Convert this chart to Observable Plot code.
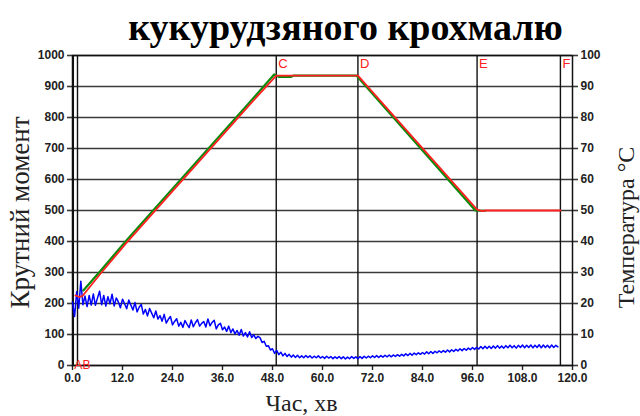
<!DOCTYPE html>
<html>
<head>
<meta charset="utf-8">
<script src="https://cdn.jsdelivr.net/npm/d3@7"></script>
<script src="https://cdn.jsdelivr.net/npm/@observablehq/plot@0.6"></script>
<style>
  body { margin: 0; background: #fff; }
  #chart { width: 640px; height: 416px; }
</style>
</head>
<body>
<div id="chart"></div>
<script>
// Texts
const title = "кукурудзяного крохмалю";
const xLabel = "Час, хв";
const yLeftLabel = "Крутний момент";
const yRightLabel = "Температура °С";

// Axis ticks
const xTicks = [0, 12, 24, 36, 48, 60, 72, 84, 96, 108, 120];
const yTicks = [0, 100, 200, 300, 400, 500, 600, 700, 800, 900, 1000];

// Stage markers of the program (min)
const eventNames = ["A", "B", "C", "D", "E", "F"];
const eventTimes = [0.2, 1.2, 48.9, 68.5, 97.1, 117.1];

// Measured product temperature (°C)
const tempTime  = [0.7, 1.6, 2.4, 6.7, 13.1, 42.7, 48.9, 68.5, 97.1, 98.3, 99.2, 117.1];
const tempValue = [22.6, 22.1, 22.4, 29.6, 39.8, 84.4, 93.5, 93.5, 50.3, 49.8, 50.0, 50.0];

// Programmed (set) temperature (°C)
const setTime  = [2.6, 6.7, 13.1, 42.7, 48.4, 49.6, 52.5, 53.0, 68.2, 96.7, 99.0];
const setValue = [24.2, 30.5, 40.6, 85.2, 93.9, 93.1, 93.1, 93.5, 93.5, 50.0, 49.9];

// Torque, sampled every 0.5 min from t = 0 (one row = 5 min)
const torqueStep = 0.5;
const torque = [
  205, 158, 238, 185, 272, 196, 224, 190, 226, 195,
  231, 194, 218, 240, 196, 226, 192, 222, 199, 230,
  192, 218, 205, 186, 214, 199, 183, 211, 195, 179,
  203, 173, 188, 197, 166, 181, 160, 184, 169, 154,
  176, 150, 161, 143, 165, 137, 149, 158, 131, 142,
  151, 127, 139, 123, 145, 133, 122, 147, 125, 138,
  148, 127, 136, 142, 124, 150, 128, 139, 146, 118,
  131, 136, 115, 124, 110, 127, 106, 118, 102, 113,
  98, 116, 95, 106, 92, 109, 90, 99, 87, 94,
  90, 74, 78, 62, 64, 50, 54, 39, 49, 35,
  43, 31, 39, 29, 36, 27, 34, 26, 33, 25,
  31, 25, 32, 26, 31, 24, 30, 25, 31, 24,
  29, 23, 30, 24, 29, 22, 28, 23, 29, 22,
  28, 21, 27, 22, 29, 23, 28, 22, 29, 23,
  30, 24, 30, 25, 31, 26, 32, 26, 32, 27,
  33, 28, 34, 28, 34, 29, 35, 30, 36, 31,
  38, 32, 39, 33, 40, 35, 41, 36, 42, 37,
  44, 38, 45, 39, 46, 41, 47, 42, 48, 43,
  50, 44, 51, 45, 52, 47, 54, 48, 55, 49,
  56, 51, 58, 52, 59, 53, 61, 54, 62, 55,
  62, 55, 63, 56, 64, 56, 63, 56, 64, 57,
  65, 57, 64, 56, 65, 58, 66, 57, 65, 58,
  66, 57, 65, 58, 67, 57, 66, 58, 65, 57,
  66, 58, 65, 60
];

// Tables for the marks
const torqueRows = torque.map((v, i) => ({t: i * torqueStep, v}));
const tempRows = tempTime.map((t, i) => ({t, v: tempValue[i] * 10}));
const setRows = setTime.map((t, i) => ({t, v: setValue[i] * 10}));
const events = eventNames.map((name, i) => ({name, t: eventTimes[i]}));
const upperEvents = events.filter(d => d.name > "B");

const serif = "Liberation Serif, Times New Roman, serif";
const sans = "Liberation Sans, Arial, sans-serif";

const chart = Plot.plot({
  width: 640,
  height: 416,
  marginLeft: 72,
  marginRight: 68,
  marginTop: 55,
  marginBottom: 51,
  style: {fontFamily: sans, background: "#fff", overflow: "visible"},
  x: {domain: [0, 120]},
  y: {domain: [0, 1000]},
  marks: [
    // horizontal grid with outer ticks on both sides
    Plot.ruleY(yTicks, {x1: 0, x2: 120, stroke: "#3a3a3a", strokeWidth: 1.6}),
    Plot.axisY(yTicks, {anchor: "left", tickSize: 5, tickPadding: 3, fontSize: 12, fontWeight: "bold", stroke: "#3a3a3a", strokeWidth: 1.6, fill: "#222", label: null, tickFormat: d => String(d)}),
    Plot.axisY(yTicks, {anchor: "right", tickSize: 5, tickPadding: 3, fontSize: 12, fontWeight: "bold", stroke: "#3a3a3a", strokeWidth: 1.6, fill: "#222", label: null, tickFormat: d => String(d / 10)}),
    Plot.axisX(xTicks, {anchor: "bottom", tickSize: 5, tickPadding: 3, fontSize: 12, fontWeight: "bold", stroke: "#222", strokeWidth: 1.4, fill: "#222", label: null, tickFormat: d => d.toFixed(1)}),
    // stage markers
    Plot.ruleX(events, {x: "t", y1: 0, y2: 1000, stroke: "#111", strokeWidth: 1.4}),
    Plot.frame({stroke: "#111", strokeWidth: 1.5}),
    // torque
    Plot.line(torqueRows, {x: "t", y: "v", stroke: "#0000ff", strokeWidth: 1.5}),
    // set and measured temperature
    Plot.line(setRows, {x: "t", y: "v", stroke: "#0a8a0a", strokeWidth: 2.2}),
    Plot.line(tempRows, {x: "t", y: "v", stroke: "#ff2020", strokeWidth: 1.8}),
    // stage letters
    Plot.text(upperEvents, {x: "t", y: 1000, text: "name", dx: 2, dy: 3, textAnchor: "start", lineAnchor: "top", fill: "#ff2020", fontSize: 13}),
    Plot.text([events[0]], {x: "t", y: 0, text: "name", dx: 1, textAnchor: "start", lineAnchor: "middle", fill: "#ff2020", fontSize: 12}),
    Plot.text([events[1]], {x: "t", y: 0, text: "name", dx: 5, textAnchor: "start", lineAnchor: "middle", fill: "#ff2020", fontSize: 12}),
    // titles
    Plot.text([title], {text: d => d, frameAnchor: "top", dx: 23, dy: -16, lineAnchor: "bottom", fontFamily: serif, fontWeight: "bold", fontSize: 38, fill: "#000"}),
    Plot.text([xLabel], {text: d => d, frameAnchor: "bottom", dx: -21, dy: 38, textAnchor: "middle", lineAnchor: "middle", fontFamily: serif, fontSize: 24, fill: "#222"}),
    Plot.text([yLeftLabel], {text: d => d, frameAnchor: "left", dx: -52, dy: 2, rotate: -90, textAnchor: "middle", lineAnchor: "middle", fontFamily: serif, fontSize: 27, fill: "#222"}),
    Plot.text([yRightLabel], {text: d => d, frameAnchor: "right", dx: 54, dy: 17, rotate: -90, textAnchor: "middle", lineAnchor: "middle", fontFamily: serif, fontSize: 24, fill: "#222"})
  ]
});
document.getElementById("chart").append(chart);
</script>
</body>
</html>
